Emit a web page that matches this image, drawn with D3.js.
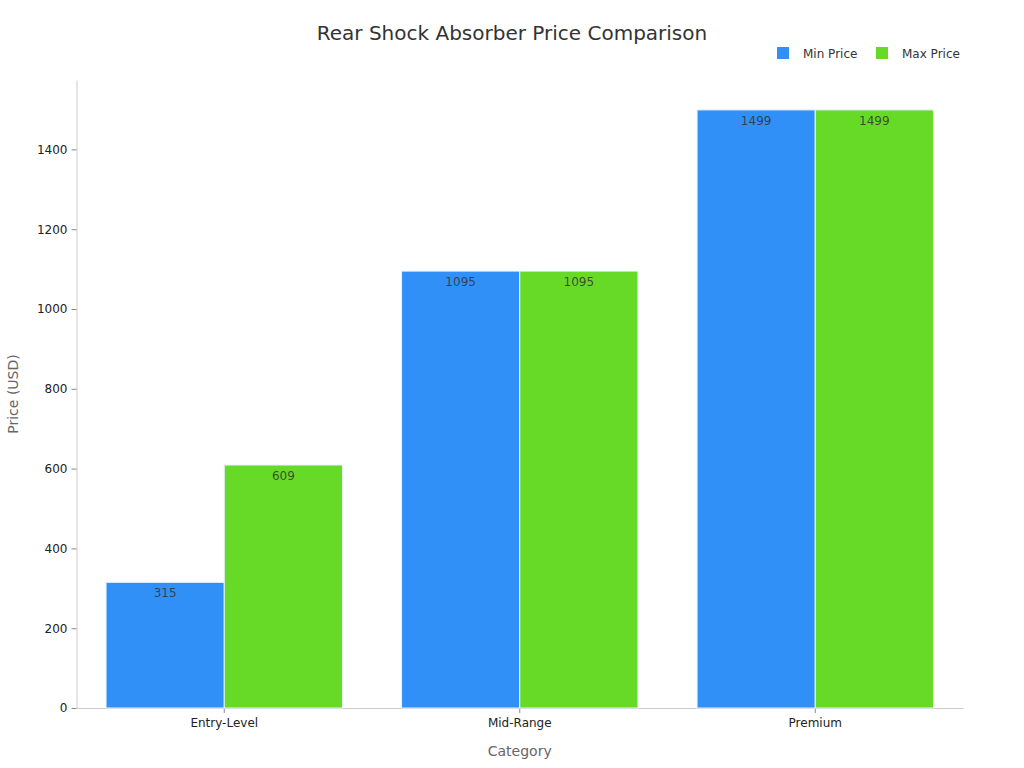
<!DOCTYPE html>
<html>
<head>
<meta charset="utf-8">
<script src="https://cdn.jsdelivr.net/npm/d3@7"></script>
<style>
	body { margin: 0; background: #fff; }
	svg { font-family: 'DejaVu Sans', sans-serif; }
</style>
</head>
<body>
<svg id="chart" width="1024" height="768"></svg>
<script>
// Chart data.
const categories = ['Entry-Level', 'Mid-Range', 'Premium'];
const seriesNames = ['Min Price', 'Max Price'];
const minPrices = [315, 1095, 1499];
const maxPrices = [609, 1095, 1499];
const yTicks = [0, 200, 400, 600, 800, 1000, 1200, 1400];

const colors = ['#3090f8', '#66da26'];
const margin = { top: 80, right: 61, bottom: 60, left: 76.5 };
const width = 1024, height = 768;

const svg = d3.select('#chart');

const rows = categories.map((c, i) => ({ category: c, values: [minPrices[i], maxPrices[i]] }));

const x0 = d3.scaleBand().domain(categories).range([margin.left, width - margin.right]).paddingInner(0.2).paddingOuter(0.1);
const x1 = d3.scaleBand().domain(seriesNames).range([0, x0.bandwidth()]);
const y = d3.scaleLinear().domain([0, d3.max(maxPrices) * 1.05]).range([height - margin.bottom, margin.top]);

// Title.
svg.append('text')
	.attr('x', width / 2)
	.attr('y', 40)
	.attr('text-anchor', 'middle')
	.attr('font-size', 20)
	.attr('fill', '#333')
	.text('Rear Shock Absorber Price Comparison');

// Axes.
const yAxis = svg.append('g')
	.attr('transform', `translate(${margin.left},0)`)
	.call(d3.axisLeft(y).tickValues(yTicks).tickFormat(d3.format('d')).tickSizeInner(5).tickSizeOuter(0).tickPadding(4));
const xAxis = svg.append('g')
	.attr('transform', `translate(0,${height - margin.bottom})`)
	.call(d3.axisBottom(x0).tickSizeInner(5).tickSizeOuter(0).tickPadding(5));

[yAxis, xAxis].forEach(ax => {
	ax.select('.domain').attr('stroke', '#ccc');
	ax.selectAll('.tick line').attr('stroke', '#888');
	ax.selectAll('.tick text').attr('fill', '#222').attr('font-size', 12).attr('font-family', 'DejaVu Sans, sans-serif');
});

// Bars.
const groups = svg.append('g')
	.selectAll('g')
	.data(rows)
	.join('g')
	.attr('transform', d => `translate(${x0(d.category)},0)`);

groups.selectAll('rect')
	.data(d => d.values.map((v, i) => ({ key: seriesNames[i], value: v, i })))
	.join('rect')
	.attr('x', d => x1(d.key))
	.attr('y', d => y(d.value))
	.attr('width', x1.bandwidth())
	.attr('height', d => y(0) - y(d.value))
	.attr('fill', d => colors[d.i])
	.attr('stroke', '#e8f4ff')
	.attr('stroke-width', 1);

groups.selectAll('text.value')
	.data(d => d.values.map((v, i) => ({ key: seriesNames[i], value: v })))
	.join('text')
	.attr('class', 'value')
	.attr('x', d => x1(d.key) + x1.bandwidth() / 2)
	.attr('y', d => y(d.value) + 15)
	.attr('text-anchor', 'middle')
	.attr('font-size', 12)
	.attr('fill', '#333')
	.attr('fill-opacity', 0.85)
	.text(d => d.value);

// Axis titles.
svg.append('text')
	.attr('x', (margin.left + width - margin.right) / 2)
	.attr('y', 756)
	.attr('text-anchor', 'middle')
	.attr('font-size', 14)
	.attr('fill', '#666')
	.text('Category');

svg.append('text')
	.attr('transform', `translate(18,${(margin.top + height - margin.bottom) / 2}) rotate(-90)`)
	.attr('text-anchor', 'middle')
	.attr('font-size', 14)
	.attr('fill', '#666')
	.text('Price (USD)');

// Legend.
const legend = svg.append('g')
	.selectAll('g')
	.data(seriesNames)
	.join('g')
	.attr('transform', (d, i) => `translate(${777 + i * 99},47)`);

legend.append('rect')
	.attr('width', 12)
	.attr('height', 12)
	.attr('fill', (d, i) => colors[i]);

legend.append('text')
	.attr('x', 26)
	.attr('y', 10.5)
	.attr('font-size', 12)
	.attr('fill', '#333')
	.text(d => d);
</script>
</body>
</html>
